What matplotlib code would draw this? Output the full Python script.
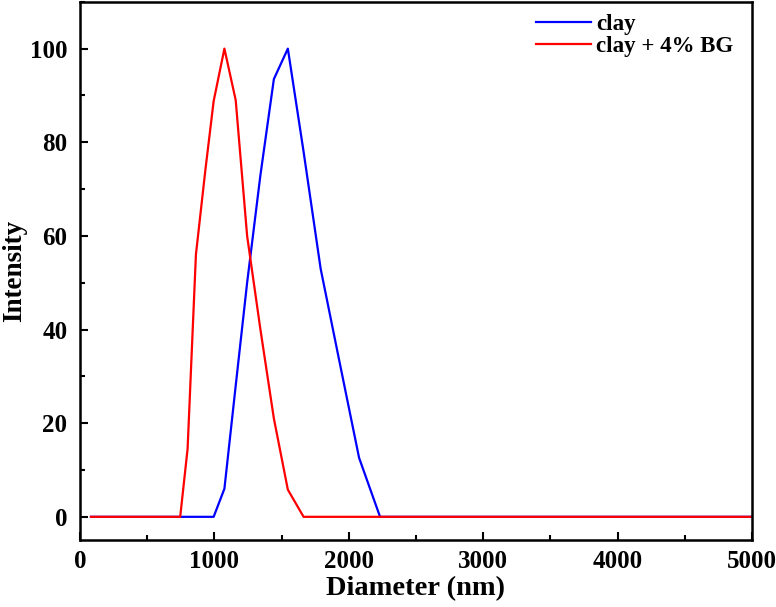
import numpy as np
import matplotlib.pyplot as plt
from matplotlib.ticker import MultipleLocator

#################################################################

# diameter (nm) and intensity
d_clay = [82, 746, 995, 1075, 1159, 1244, 1343, 1443, 1547, 1664, 1791,
          1925, 2077, 2233, 5000]
i_clay = [0, 0, 0, 6, 28, 50, 73, 93.5, 100, 78, 53,
          34, 12.6, 0, 0]

d_bg = [82, 746, 801, 863, 933, 995, 1075, 1159, 1244, 1343, 1443,
        1547, 1664, 5000]
i_bg = [0, 0, 14.5, 56, 74, 88.8, 100, 89, 60, 40, 21,
        5.8, 0, 0]

#################################################################

plt.rcParams['font.family'] = ['Liberation Serif', 'DejaVu Serif']
plt.rcParams['font.weight'] = 'bold'

fig = plt.figure(figsize=(7.76, 6.07), dpi=100)
ax = fig.add_axes([0.103, 0.110, 0.866, 0.887])

ax.plot(d_clay, i_clay, color='#0000ff', lw=1.6, label='clay')
ax.plot(d_bg, i_bg, color='#ff0000', lw=1.6, label='clay + 4% BG')

ax.set_xlim(0, 5000)
ax.set_ylim(-5, 110)
ax.xaxis.set_major_locator(MultipleLocator(1000))
ax.xaxis.set_minor_locator(MultipleLocator(500))
ax.set_yticks([0, 20, 40, 60, 80, 100])
ax.yaxis.set_minor_locator(MultipleLocator(10))

ax.tick_params(which='both', direction='in', width=1.5, labelsize=18,
               top=False, right=False)
ax.tick_params(which='major', length=6)
ax.tick_params(which='minor', length=3.5)
ax.tick_params(axis='x', pad=7)
ax.tick_params(axis='y', pad=9)
for s in ax.spines.values():
    s.set_linewidth(1.8)

ax.set_xlabel('Diameter (nm)', fontsize=20.5, fontweight='bold', labelpad=2)
ax.set_ylabel('Intensity', fontsize=19.5, fontweight='bold', labelpad=2)

ax.legend(loc='upper right', frameon=False, handlelength=2.4,
          handletextpad=0.25, labelspacing=0.05, borderaxespad=0.4,
          bbox_to_anchor=(1.0, 1.012),
          prop={'weight': 'bold', 'size': 16.5})

plt.savefig('out.png', dpi=100)
